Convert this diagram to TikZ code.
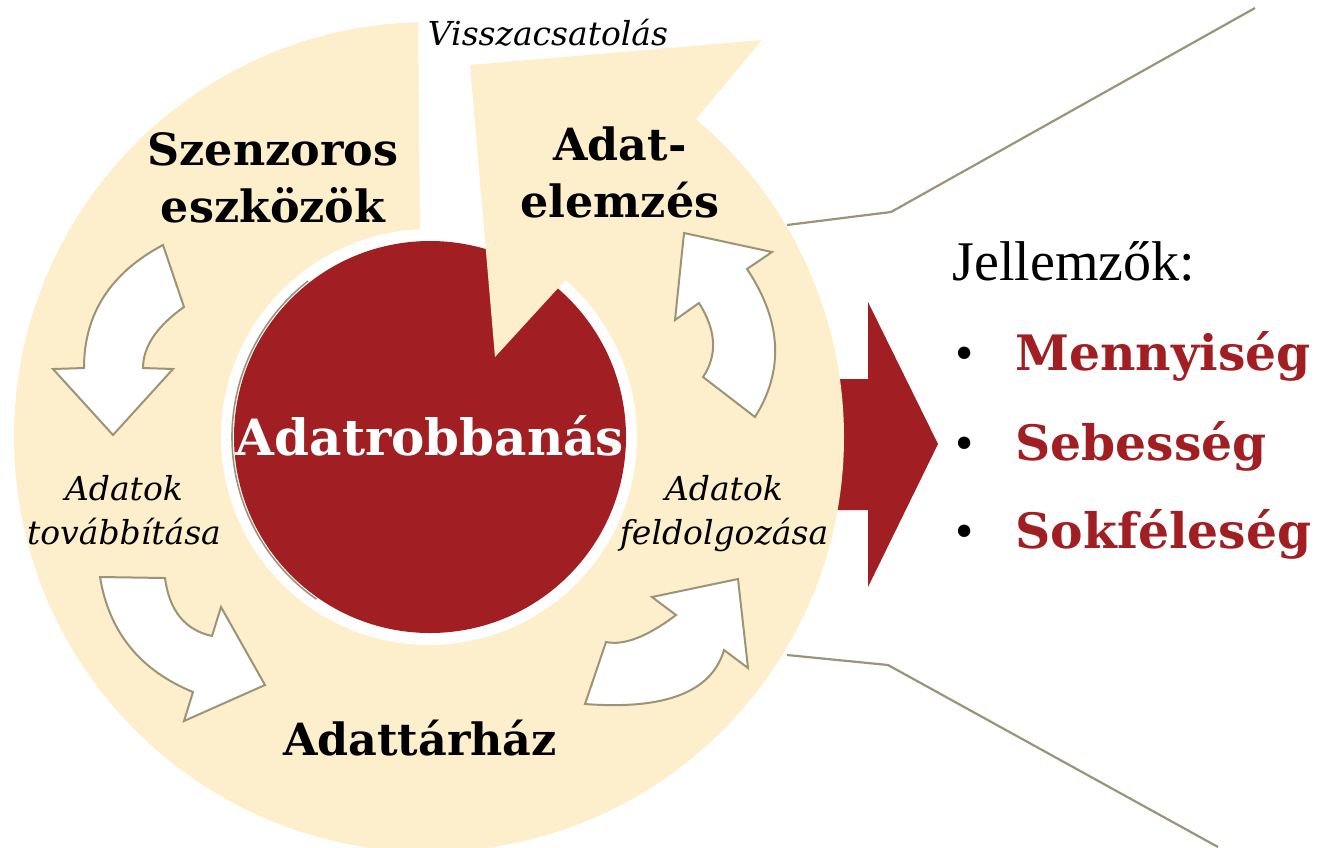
\documentclass[tikz,border=0pt]{standalone}
\usepackage{fontspec}
\setmainfont{DejaVu Serif}
\newfontfamily\timesfont{Liberation Serif}
\usetikzlibrary{calc, positioning}
\definecolor{cream}{HTML}{FDEFCB}
\definecolor{brick}{HTML}{A11F22}
\definecolor{taupe}{HTML}{9C9479}

\tikzset{
  stage/.style={font=\bfseries\fontsize{22.2}{28.5}\selectfont, align=center},
  flow/.style={font=\itshape\fontsize{16.5}{22}\selectfont, align=center},
  bend arrow/.style={fill=white, draw=taupe, line width=1pt},
  callout/.style={draw=taupe, line width=1.1pt},
  feature/.style={font=\bfseries\fontsize{24.4}{28}\selectfont, text=brick, anchor=base west, inner sep=0pt},
  bulletdot/.style={font=\timesfont\fontsize{26}{28}\selectfont, anchor=base, inner sep=0pt},
}

\begin{document}
\begin{tikzpicture}[x=0.5pt, y=-0.5pt]
    \useasboundingbox (0,0) rectangle (1320,847);
    \coordinate (ring) at (429,437);
    \coordinate (hub) at (430,437);

    % callout lines
    \coordinate (ua) at (787,225);
    \coordinate (ub) at (891,212);
    \coordinate (uc) at (1255,8);
    \coordinate (la) at (787,655);
    \coordinate (lb) at (888,665);
    \coordinate (lc) at (1218,847);
    \draw[callout] (ua) -- (ub) -- (uc);
    \draw[callout] (la) -- (lb) -- (lc);

    % big arrow
    \fill[brick] (800,379) -- (868,379) -- (868,302) -- (938,444) -- (868,587) -- (868,510) -- (800,510) -- cycle;

    % hub
    \fill[brick] (hub) circle[radius=196];
    \draw[taupe, line width=0.8pt] ($(hub)+(125:198)$) arc[start angle=125, end angle=232, radius=198];

    % feedback ring
    \fill[cream] ($(ring)+(-50:415)$) -- (762,40) -- (470,65) -- (495,357) -- ($(ring)+(-49:208)$)
        arc[start angle=-49, end angle=267.5, radius=208] -- ($(ring)+(268.5:415)$)
        arc[start angle=268.5, end angle=-50, radius=415] -- cycle;

    % small arrows
    \filldraw[bend arrow] (163,245) -- (184,307) .. controls (156.7,326.3) and (143,346.7) .. (143,368) -- (173,369)
        -- (113,435) -- (53,369) -- (84,368) .. controls (84,314) and (110.3,273) .. (163,245) -- cycle;
    \filldraw[bend arrow] (100,577) -- (165,578) .. controls (169.3,610.7) and (185,630) .. (212,636) -- (221,607)
        -- (265,685) -- (184,721) -- (193,692) .. controls (140,670.3) and (109,632) .. (100,577) -- cycle;
    \filldraw[bend arrow] (585,704) -- (606,642) .. controls (624,645.7) and (647.3,636.7) .. (676,615) -- (652,597)
        -- (738,579) -- (748,668) -- (724,650) .. controls (711.7,692) and (665.3,710) .. (585,704) -- cycle;
    \filldraw[bend arrow] (755,417) -- (703,377) .. controls (717.7,355) and (716.3,330.3) .. (699,303) -- (675,320)
        -- (684,233) -- (772,252) -- (747,269) .. controls (781.7,321) and (784.3,370.3) .. (755,417) -- cycle;

    % labels
    \node[text=white, font=\bfseries\fontsize{25}{28}\selectfont, anchor=base] (hubtext) at (430,455) {Adatrobbanás};
    \node[stage] (sensors) at (273,178) {Szenzoros\\eszközök};
    \node[stage] (analysis) at (620,172.5) {Adat-\\elemzés};
    \node[stage, anchor=base] (warehouse) at (420,755) {Adattárház};
    \node[flow, anchor=base] (feedback) at (548,45) {Visszacsatolás};
    \node[flow] (transfer) at (124,510.5) {Adatok\\továbbítása};
    \node[flow] (process) at (724,514) {Adatok\\feldolgozása};

    \node[font=\timesfont\fontsize{28}{30}\selectfont, anchor=base west, inner sep=0pt] (props) at (952,280) {Jellemzők:};
    \node[feature] (volume) at (1015,370) {Mennyiség};
    \node[feature] (velocity) at (1015,460) {Sebesség};
    \node[feature] (variety) at (1015,548) {Sokféleség};
    \node[bulletdot] (b1) at (965,370) {•};
    \node[bulletdot] (b2) at (965,460) {•};
    \node[bulletdot] (b3) at (965,548) {•};
\end{tikzpicture}
\end{document}
